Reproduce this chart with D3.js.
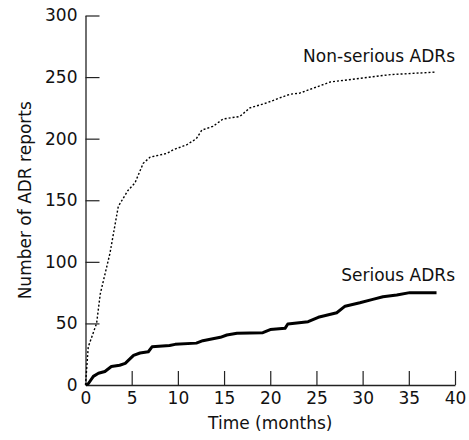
<!DOCTYPE html>
<html>
<head>
<meta charset="utf-8">
<script src="https://cdn.jsdelivr.net/npm/d3@7"></script>
<style>
  body { margin: 0; background: #fff; }
  text { font-family: "DejaVu Sans", sans-serif; fill: #111; }
</style>
</head>
<body>
<div id="chart"></div>
<script>
// --- Data ---
const nonSeriousMonths = [0, 0.3, 1.2, 1.6, 2.3, 2.65, 3.55, 4.6, 5.35, 6.25, 7.0, 8.8, 9.5, 10.95, 12.0, 12.6, 13.8, 14.9, 16.7, 17.8, 19.6, 21.0, 22.1, 23.2, 26.5, 29.7, 33.0, 37.8];
const nonSeriousCounts = [0, 31, 50, 74, 96, 107, 145, 158, 164, 180, 185, 188, 191, 195, 200, 207, 210, 216, 218, 225, 229, 233, 236, 237, 246, 249, 252, 254];

const seriousMonths = [0, 0.3, 0.85, 1.4, 2.1, 2.8, 3.7, 4.3, 5.2, 5.9, 6.8, 7.2, 9.1, 9.7, 12.0, 12.7, 14.6, 15.3, 16.4, 19.2, 20.0, 21.6, 21.9, 24.1, 25.2, 27.2, 28.1, 29.7, 31.1, 32.2, 33.7, 35.1, 38.0];
const seriousCounts = [0, 1, 7, 9.5, 11, 15, 16, 17.5, 24, 26, 27, 31, 32, 33, 34, 36, 38.7, 40.6, 42, 42.5, 45, 46, 49.5, 51.4, 55, 58.7, 64, 66.8, 69.5, 71.7, 73, 75, 75];

const xTicks = [0, 5, 10, 15, 20, 25, 30, 35, 40];
const yTicks = [0, 50, 100, 150, 200, 250, 300];

// --- Setup ---
const width = 469, height = 440;
const fontSize = "17px";
const svg = d3.select("#chart").append("svg")
    .attr("width", width).attr("height", height);

const x = d3.scaleLinear().domain([0, 40]).range([85.5, 455]);
const y = d3.scaleLinear().domain([0, 300]).range([385, 15.5]);

// --- Axes ---
const xAxis = svg.append("g")
    .attr("transform", `translate(0,${y(0)})`)
    .call(d3.axisBottom(x).tickValues(xTicks).tickSize(0).tickPadding(7));
xAxis.select(".domain").attr("stroke", "#222").attr("stroke-width", 1.3);
xAxis.selectAll(".tick line").remove();
xAxis.selectAll(".tick").append("line")
    .attr("y1", 0).attr("y2", d => d === 0 ? 0 : -14)
    .attr("stroke", "#222").attr("stroke-width", 1.2);
xAxis.selectAll("text").style("font-size", fontSize).attr("fill", "#111");

const yAxis = svg.append("g")
    .attr("transform", `translate(${x(0)},0)`)
    .call(d3.axisLeft(y).tickValues(yTicks).tickSize(0).tickPadding(8));
yAxis.select(".domain").attr("stroke", "#222").attr("stroke-width", 1.3);
yAxis.selectAll(".tick").append("line")
    .attr("x1", 0).attr("x2", d => d === 0 ? 0 : 14)
    .attr("stroke", "#222").attr("stroke-width", 1.2);
yAxis.selectAll("text").style("font-size", fontSize).attr("fill", "#111");

// axis titles
svg.append("text")
    .attr("x", x(20)).attr("y", 429)
    .attr("text-anchor", "middle")
    .style("font-size", fontSize)
    .text("Time (months)");

svg.append("text")
    .attr("transform", `translate(31,${y(150)}) rotate(-90)`)
    .attr("text-anchor", "middle")
    .style("font-size", fontSize)
    .text("Number of ADR reports");

// --- Lines ---
const line = d3.line().x(d => x(d[0])).y(d => y(d[1]));

svg.append("path")
    .datum(d3.zip(nonSeriousMonths, nonSeriousCounts))
    .attr("fill", "none")
    .attr("stroke", "#000")
    .attr("stroke-width", 1.4)
    .attr("stroke-dasharray", "2,2")
    .attr("d", line);

svg.append("path")
    .datum(d3.zip(seriousMonths, seriousCounts))
    .attr("fill", "none")
    .attr("stroke", "#000")
    .attr("stroke-width", 3)
    .attr("stroke-linejoin", "round")
    .attr("d", line);

// --- Series labels ---
svg.append("text")
    .attr("x", 455).attr("y", 62)
    .attr("text-anchor", "end")
    .style("font-size", fontSize)
    .text("Non-serious ADRs");

svg.append("text")
    .attr("x", 455).attr("y", 281)
    .attr("text-anchor", "end")
    .style("font-size", fontSize)
    .text("Serious ADRs");
</script>
</body>
</html>
